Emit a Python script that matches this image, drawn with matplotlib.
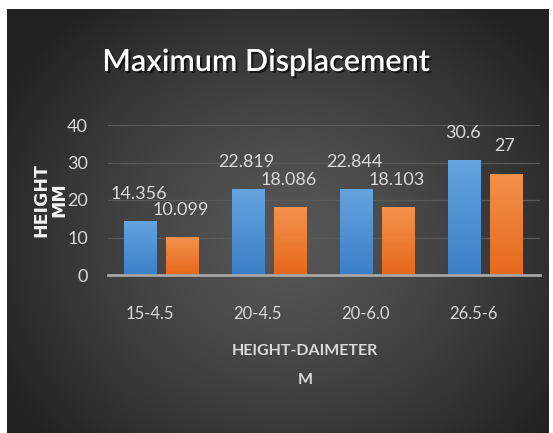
import matplotlib
matplotlib.use("Agg")
import matplotlib.pyplot as plt
import matplotlib.patheffects as pe
import matplotlib.transforms as mtransforms
from matplotlib.colors import LinearSegmentedColormap
import numpy as np

categories = ["15-4.5", "20-4.5", "20-6.0", "26.5-6"]
series_a = [14.356, 22.819, 22.844, 30.6]
series_b = [10.099, 18.086, 18.103, 27]
labels_a = ["14.356", "22.819", "22.844", "30.6"]
labels_b = ["10.099", "18.086", "18.103", "27"]
yticks = [0, 10, 20, 30, 40]

FONT = ["Lato", "DejaVu Sans"]
TXT = "#d9d9d9"

W, H = 553, 433
fig = plt.figure(figsize=(W / 100, H / 100), dpi=100)
fig.patch.set_facecolor("white")

# dark radial background panel
bg = fig.add_axes([7 / W, 0, (549 - 7) / W, (H - 9) / H])
bg.set_axis_off()
yy, xx = np.mgrid[0:424, 0:542]
cx, cy = 280, 230
r = np.sqrt(((xx - cx) / 330.0) ** 2 + ((yy - cy) / 300.0) ** 2)
r = np.clip(r, 0, 1)
shade = 0.34 - (0.34 - 0.13) * r ** 1.3
bg.imshow(np.dstack([shade] * 3), aspect="auto", extent=[0, 1, 0, 1])
bg.set_xlim(0, 1)
bg.set_ylim(0, 1)

ax = fig.add_axes([107.5 / W, (H - 275) / H, (540 - 107.5) / W, 150 / H])
ax.patch.set_alpha(0)
x = np.arange(len(categories))
width = 0.305
off = 0.194

blue_cm = LinearSegmentedColormap.from_list("b", ["#3b7fc6", "#64a3df"])
orange_cm = LinearSegmentedColormap.from_list("o", ["#e6691c", "#f3914c"])
grad = np.linspace(0, 1, 64).reshape(-1, 1)


def draw_bars(xs, vals, cmap):
    bars = ax.bar(xs, vals, width, color="none", edgecolor="none", zorder=3)
    for b in bars:
        im = ax.imshow(grad, cmap=cmap, aspect="auto", origin="lower",
                       extent=[b.get_x(), b.get_x() + b.get_width(), 0, b.get_height()],
                       zorder=3)
        im.set_clip_path(b)
    return bars


bars_a = draw_bars(x - off, series_a, blue_cm)
bars_b = draw_bars(x + off, series_b, orange_cm)

for bars, labs in ((bars_a, labels_a), (bars_b, labels_b)):
    for b, lab in zip(bars, labs):
        ax.annotate(lab, (b.get_x() + b.get_width() / 2 - 0.02, b.get_height()),
                    xytext=(0, 14), textcoords="offset points", ha="center", va="bottom",
                    fontsize=13, color=TXT, zorder=5, family=FONT)

ax.set_xlim(-0.5, len(categories) - 0.5)
ax.set_ylim(0, 40)
ax.set_yticks(yticks)
ax.set_yticklabels([str(v) for v in yticks], fontsize=13, color=TXT, family=FONT)
ax.set_xticks(x)
ax.set_xticklabels(categories, fontsize=12, color=TXT, family=FONT)
ax.tick_params(axis="both", length=0)
ax.tick_params(axis="y", pad=14)
ax.tick_params(axis="x", pad=22)
shift = mtransforms.ScaledTranslation(-12 / 100, 0, fig.dpi_scale_trans)
for lbl in ax.get_xticklabels():
    lbl.set_transform(lbl.get_transform() + shift)
for v in yticks[1:]:
    ax.axhline(v, color="#5a5a5a", lw=0.9, zorder=1)
for s in ("top", "right", "left"):
    ax.spines[s].set_visible(False)
ax.spines["bottom"].set_color("#a6a6a6")
ax.spines["bottom"].set_linewidth(2)
ax.spines["bottom"].set_zorder(4)

ax.set_ylabel("HEIGHT\nMM", fontsize=12.5, fontweight="bold", color="#f2f2f2",
              family="DejaVu Sans", linespacing=1.0)
ax.yaxis.set_label_coords(-0.09, 0.5)
ax.set_xlabel("HEIGHT-DAIMETER\n\nM", fontsize=11.5, fontweight="bold", color=TXT,
              linespacing=1.05, va="top", family=FONT)
ax.xaxis.set_label_coords(0.457, -0.46)

fig.text(266 / W, 1 - 62 / H, "Maximum Displacement", ha="center", va="center",
         fontsize=22, fontweight="semibold", color="white", family=FONT,
         path_effects=[pe.withSimplePatchShadow(offset=(1.5, -1.5), shadow_rgbFace="black", alpha=0.6)])

fig.savefig("out.png", dpi=100)
